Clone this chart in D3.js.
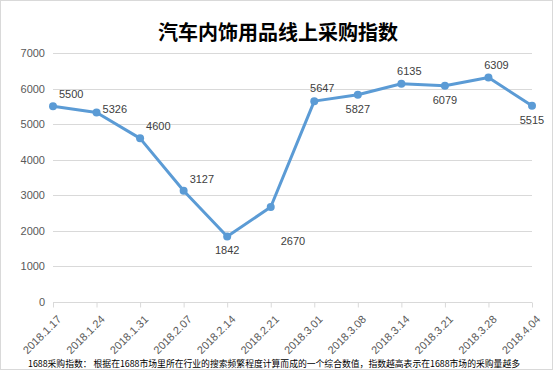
<!DOCTYPE html>
<html>
<head>
<meta charset="utf-8">
<script src="https://cdn.jsdelivr.net/npm/d3@7"></script>
<style>
  body { margin: 0; background: #fff; }
  svg { display: block; font-family: "Noto Sans CJK SC", "Liberation Sans", sans-serif; }
</style>
</head>
<body>
<div id="chart"></div>
<script>
// data
const dates = ["2018.1.17", "2018.1.24", "2018.1.31", "2018.2.07", "2018.2.14", "2018.2.21",
  "2018.3.01", "2018.3.08", "2018.3.14", "2018.3.21", "2018.3.28", "2018.4.04"]
const values = [5500, 5326, 4600, 3127, 1842, 2670, 5647, 5827, 6135, 6079, 6309, 5515]
const yTicks = [0, 1000, 2000, 3000, 4000, 5000, 6000, 7000]
// where each data label sits relative to its point
const labelSide = ["upright", "right", "upright", "upright", "below", "downright",
  "above", "below", "above", "below", "above", "below"]

const title = "汽车内饰用品线上采购指数"
const note = "1688采购指数：  根据在1688市场里所在行业的搜索频繁程度计算而成的一个综合数值，指数越高表示在1688市场的采购量越多"

const width = 553, height = 370
const margin = { left: 53, right: 21, top: 53, bottom: 68 }

const svg = d3.select("#chart").append("svg")
  .attr("width", width)
  .attr("height", height)

// outer frame
svg.append("rect")
  .attr("x", 0.5).attr("y", 0.5)
  .attr("width", width - 1).attr("height", height - 1)
  .attr("fill", "#fff").attr("stroke", "#d9d9d9")

const x = d3.scalePoint()
  .domain(dates)
  .range([margin.left, width - margin.right])

const y = d3.scaleLinear()
  .domain([0, 7000])
  .range([height - margin.bottom, margin.top])

// gridlines
svg.append("g")
  .selectAll("line")
  .data(yTicks.filter((d) => d > 0))
  .join("line")
  .attr("x1", margin.left)
  .attr("x2", width - margin.right)
  .attr("y1", (d) => Math.round(y(d)) + 0.5)
  .attr("y2", (d) => Math.round(y(d)) + 0.5)
  .attr("stroke", "#d9d9d9")

// y axis labels
const yAxis = svg.append("g")
  .attr("transform", `translate(${margin.left - 8},0)`)
  .call(d3.axisLeft(y).tickValues(yTicks).tickFormat(d3.format("d")).tickSize(0).tickPadding(0))
yAxis.select(".domain").remove()
yAxis.selectAll("text")
  .attr("fill", "#595959")
  .style("font-size", "11px")
  .style("font-family", "Liberation Sans, sans-serif")

// x axis
const xAxis = svg.append("g")
  .attr("transform", `translate(0,${Math.round(y(0)) + 0.5})`)
  .call(d3.axisBottom(x).tickSize(5).tickPadding(0))
xAxis.select(".domain").attr("stroke", "#d9d9d9").attr("d", `M${margin.left},0H${width - margin.right}`)
xAxis.selectAll(".tick line").attr("stroke", "#d9d9d9")
xAxis.selectAll("text")
  .attr("fill", "#595959")
  .style("font-size", "11px")
  .style("font-family", "Liberation Sans, sans-serif")
  .attr("text-anchor", "end")
  .attr("dy", 0)
  .attr("transform", "translate(5,14) rotate(-45)")

// line
const line = d3.line()
  .x((d, i) => x(dates[i]))
  .y((d) => y(d))

svg.append("path")
  .datum(values)
  .attr("fill", "none")
  .attr("stroke", "#5b9bd5")
  .attr("stroke-width", 3)
  .attr("stroke-linejoin", "round")
  .attr("d", line)

svg.append("g")
  .selectAll("circle")
  .data(values)
  .join("circle")
  .attr("cx", (d, i) => x(dates[i]))
  .attr("cy", (d) => y(d))
  .attr("r", 4)
  .attr("fill", "#5b9bd5")

// data labels
const offsets = {
  upright: [6, -8, "start"],
  right: [6, 0, "start"],
  downright: [10, 38, "start"],
  above: [8, -9, "middle"],
  below: [0, 18, "middle"],
}
svg.append("g")
  .selectAll("text")
  .data(values)
  .join("text")
  .attr("x", (d, i) => x(dates[i]) + offsets[labelSide[i]][0])
  .attr("y", (d, i) => y(d) + offsets[labelSide[i]][1])
  .attr("text-anchor", (d, i) => offsets[labelSide[i]][2])
  .attr("fill", "#404040")
  .style("font-size", "11px")
  .style("font-family", "Liberation Sans, sans-serif")
  .text((d) => d)

// title
svg.append("text")
  .attr("x", 278)
  .attr("y", 40)
  .attr("text-anchor", "middle")
  .attr("fill", "#000")
  .style("font-size", "20px")
  .style("font-weight", "bold")
  .text(title)

// footnote
svg.append("text")
  .attr("x", 28)
  .attr("y", 367)
  .attr("fill", "#000")
  .style("font-size", "9px")
  .attr("textLength", 492)
  .attr("lengthAdjust", "spacingAndGlyphs")
  .text(note)
</script>
</body>
</html>
